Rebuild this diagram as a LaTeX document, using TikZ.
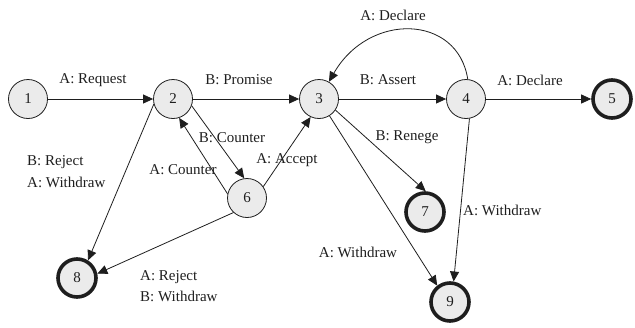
\documentclass[tikz,border=0pt]{standalone}
\usepackage{fontspec}
\setmainfont{Liberation Serif}
\usetikzlibrary{arrows.meta}
\definecolor{nodefill}{RGB}{235,235,235}
\definecolor{ink}{RGB}{30,30,30}
\begin{document}
\begin{tikzpicture}[x=1pt,y=-1pt,
  font=\fontsize{15}{17}\selectfont, text=ink,
  state/.style={circle,draw=ink,fill=nodefill,line width=0.8pt,minimum size=39pt,inner sep=0pt},
  final/.style={state,line width=3.6pt,minimum size=38pt},
  arr/.style={draw=ink,line width=0.8pt,-{Triangle[length=10pt,width=9pt]}},
  lbl/.style={inner sep=0pt}]
\useasboundingbox (0,0) rectangle (635,327);
\node[state] (n1) at (28,99) {1};
\node[state] (n2) at (173,99) {2};
\node[state] (n3) at (319,99) {3};
\node[state] (n4) at (466,99) {4};
\node[final] (n5) at (612,99) {5};
\node[state] (n6) at (247,198) {6};
\node[final] (n7) at (425,212) {7};
\node[final] (n8) at (77,278) {8};
\node[final] (n9) at (450,302) {9};

\draw[arr] (n1) -- (n2);
\draw[arr] (n2) -- (n3);
\draw[arr] (n3) -- (n4);
\draw[arr] (n4) -- (n5);
\draw[arr] (n4.85) .. controls +(-10,-65) and +(40,-70) .. (n3.60);
\draw[arr] (n2.-20) -- (n6.98);
\draw[arr] (n6.168) -- (n2.-72);
\draw[arr] (n6.35) -- (n3.-115);
\draw[arr] (n2.195) -- (n8.58);
\draw[arr] (n6.-133) -- (n8.12);
\draw[arr] (n3.-34) -- (n7.88);
\draw[arr] (n3.-58) -- (n9.128);
\draw[arr] (n4.-80) -- (n9.80);

\node[lbl] (l1) at (93,80) {A: Request};
\node[lbl] (l2) at (239,80) {B: Promise};
\node[lbl] (l3) at (388,80) {B: Assert};
\node[lbl] (l4) at (530,80) {A: Declare};
\node[lbl] (l5) at (393,15) {A: Declare};
\node[lbl] (l6) at (232,138) {B: Counter};
\node[lbl] (l7) at (183,170) {A: Counter};
\node[lbl] (l8) at (287,160) {A: Accept};
\node[lbl,anchor=west] (l9) at (27,162) {B: Reject};
\node[lbl,anchor=west] (l10) at (27,182) {A: Withdraw};
\node[lbl,anchor=west] (l11) at (140,277) {A: Reject};
\node[lbl,anchor=west] (l12) at (140,296) {B: Withdraw};
\node[lbl] (l13) at (407,137) {B: Renege};
\node[lbl,anchor=west] (l14) at (463,210) {A: Withdraw};
\node[lbl] (l15) at (358,252) {A: Withdraw};
\end{tikzpicture}
\end{document}
